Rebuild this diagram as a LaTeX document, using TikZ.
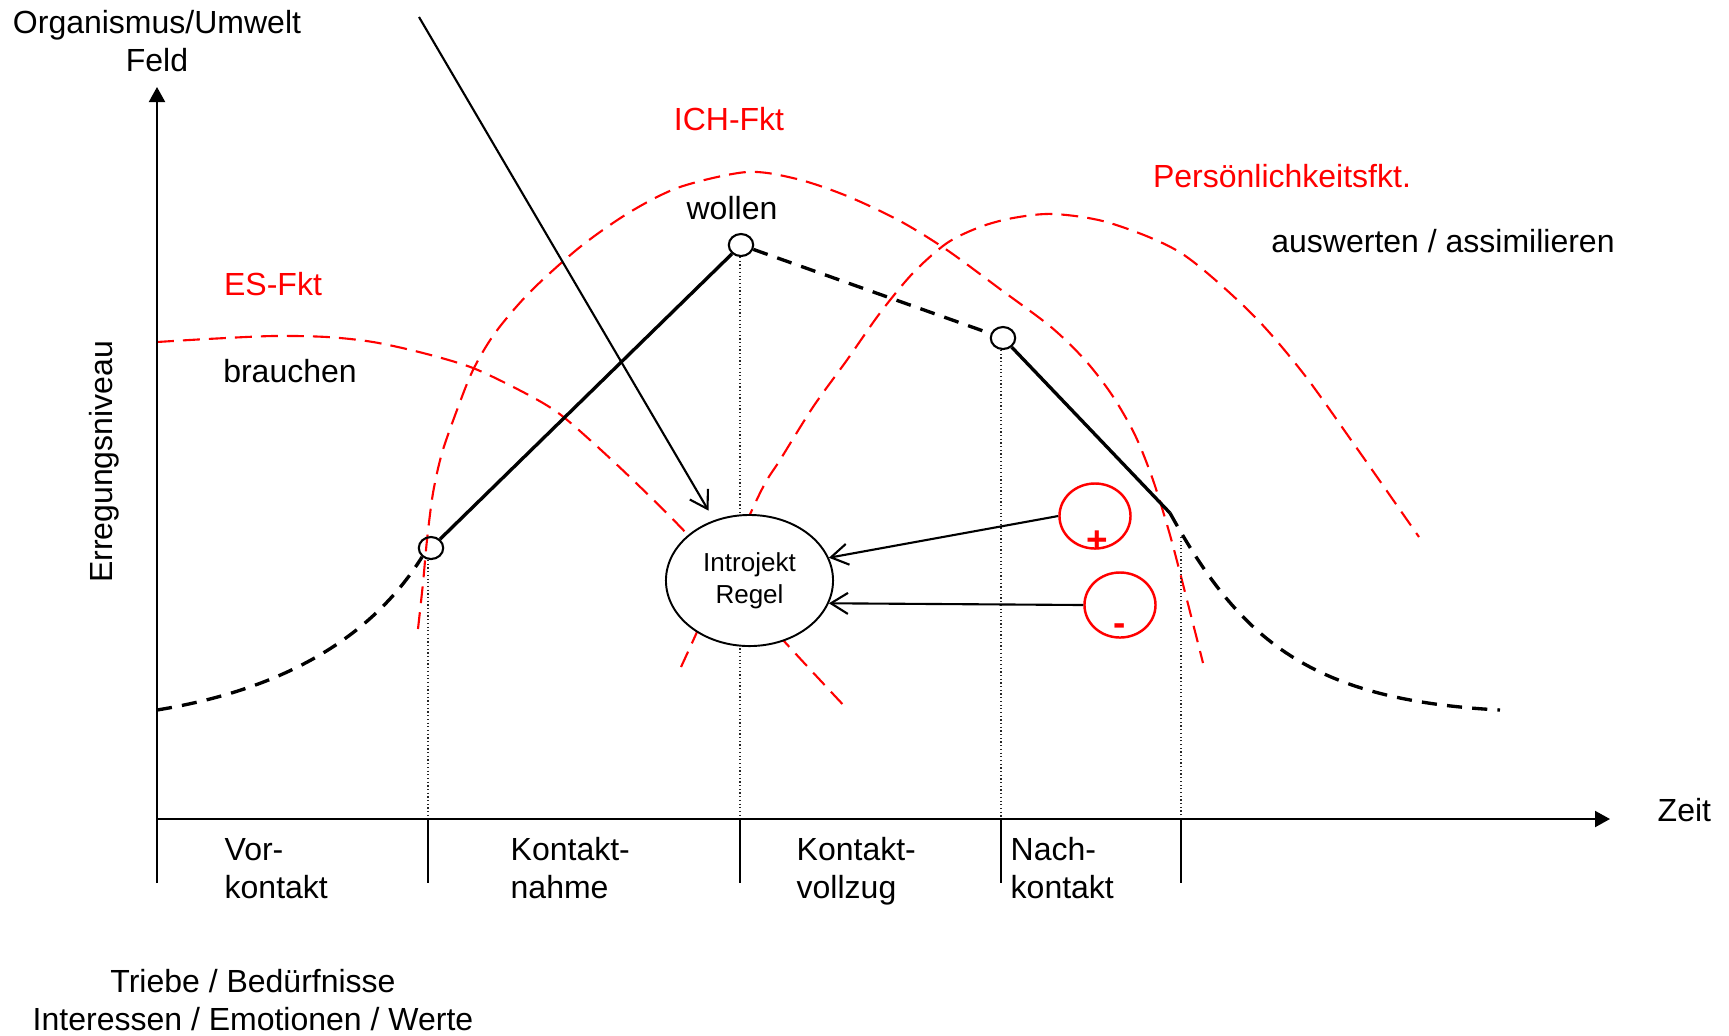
\documentclass[tikz,border=0pt]{standalone}
\usepackage{fontspec}
\setmainfont{Liberation Sans}
\usetikzlibrary{arrows.meta,shapes.geometric}
\tikzset{
  achse/.style={line width=0.6pt, draw=black},
  teilung/.style={line width=0.4pt, draw=black},
  hilfslinie/.style={line width=0.35pt, draw=black!85, dash pattern=on 0.35pt off 0.7pt},
  verlauf/.style={line width=0.95pt, draw=black},
  verlaufstr/.style={line width=0.95pt, draw=black, dash pattern=on 4.3pt off 2.9pt},
  funktion/.style={line width=0.6pt, draw=red, dash pattern=on 4.8pt off 2.6pt},
  punkt/.style={ellipse, draw=black, line width=0.6pt, minimum width=0.244cm, minimum height=0.22cm, inner sep=0pt},
  introjekt/.style={ellipse, draw=black, fill=white, line width=0.55pt, minimum width=1.67cm, minimum height=1.31cm, inner sep=0pt, align=center, font=\fontsize{7.4pt}{9.1pt}\selectfont},
  wertung/.style={ellipse, draw=red, line width=0.7pt, minimum width=0.71cm, minimum height=0.65cm, inner sep=0pt},
  zeichen/.style={text=red, font=\fontsize{10.5pt}{10.5pt}\selectfont\bfseries, inner sep=0pt},
  pfeil/.style={line width=0.6pt, draw=black, -{Straight Barb[length=1.7mm, width=2.1mm]}},
  beschriftung/.style={inner sep=0pt},
  fkt/.style={inner sep=0pt, text=red},
}

\begin{document}
\begin{tikzpicture}[x=0.01cm, y=-0.01cm, font=\fontsize{9.1pt}{10.73pt}\selectfont]
\useasboundingbox (0,0) rectangle (1729,1035);
\draw[funktion] plot[smooth, tension=0.5] coordinates {(157,342) (207,339) (273,336) (327,337) (373,342) (423,353) (473,368) (523,392) (557,412) (590,440) (633,480) (688,535) (783,640) (848,710)};
\draw[funktion] plot[smooth, tension=0.5] coordinates {(418,629) (423,583) (427,540) (433,493) (442,453) (457,410) (473,370) (495,333) (530,292) (580,247) (630,212) (680,187) (747,172) (797,179) (847,196) (900,221) (947,250) (1000,289) (1051,327) (1085,360) (1112,395) (1135,435) (1153,480) (1170,535) (1187,600) (1203,663)};
\draw[funktion] plot[smooth, tension=0.5] coordinates {(681,667) (697,632) (752,510) (767,480) (780,460) (813,407) (847,360) (880,313) (913,273) (947,243) (980,227) (1013,218) (1054,214) (1110,223) (1181,253) (1251,313) (1303,373) (1356,447) (1419,537)};
\coordinate (ursprung) at (157,819);
\coordinate (yfuss) at (157,883);
\coordinate (yspitze) at (157,87);
\coordinate (xspitze) at (1610,819);
\coordinate (t1) at (428,819);
\coordinate (t2) at (740,819);
\coordinate (t3) at (1001,819);
\coordinate (t4) at (1181,819);
\node[punkt] (p1) at (431,548) {};
\node[punkt] (p2) at (741,245) {};
\node[punkt] (p3) at (1003,338) {};
\coordinate (anfang) at (157,710);
\coordinate (knick) at (1170,513);
\coordinate (ende) at (1500,710);
\draw[hilfslinie] (t1 |- p1.south) -- (t1);
\draw[hilfslinie] (t2 |- p2.south) -- (t2);
\draw[hilfslinie] (t3 |- p3.south) -- (t3);
\draw[hilfslinie] (t4) -- ++(0,-282);
\draw[achse, -{Triangle[length=1.5mm, width=1.6mm]}] (yfuss) -- (yspitze);
\draw[achse, -{Triangle[length=1.5mm, width=1.6mm]}] (ursprung) -- (xspitze);
\draw[teilung] (t1) -- ++(0,64);
\draw[teilung] (t2) -- ++(0,64);
\draw[teilung] (t3) -- ++(0,64);
\draw[teilung] (t4) -- ++(0,64);
\draw[verlaufstr] (anfang) .. controls (280,690) and (370,640) .. (p1.225);
\draw[verlauf] (p1) -- (p2);
\draw[verlaufstr] (p2) -- (p3);
\draw[verlauf] (p3) -- (knick);
\draw[verlaufstr] (knick) .. controls (1240,640) and (1310,700) .. (ende);
\node[introjekt] (regel) at (749.5,580.5) {Introjekt\\Regel};
\node[wertung] (plus) at (1095,516) {};
\node[wertung] (minus) at (1120,605) {};
\node[zeichen] (pluszeichen) at (1097,542) {+};
\node[zeichen] (minuszeichen) at (1120,630) {-};
\coordinate (oben) at (419,17);
\draw[pfeil, shorten >=1.1mm] (oben) -- (regel);
\draw[pfeil] (plus.west) -- (regel.16);
\draw[pfeil] (minus.west) -- (regel.-16);
\node[beschriftung, align=center, anchor=base] (feld) at (157,71) {Organismus/Umwelt\\Feld};
\node[fkt, anchor=base] (ich) at (729,130) {ICH-Fkt};
\node[fkt, anchor=base] (pers) at (1282,187) {Persönlichkeitsfkt.};
\node[beschriftung, anchor=base] (wollen) at (732,219) {wollen};
\node[beschriftung, anchor=base] (auswerten) at (1443,252) {auswerten / assimilieren};
\node[fkt, anchor=base] (es) at (273,295) {ES-Fkt};
\node[beschriftung, anchor=base] (brauchen) at (290,382) {brauchen};
\node[beschriftung, rotate=90, anchor=base] (niveau) at (112,462) {Erregungsniveau};
\node[beschriftung, anchor=base west] (zeit) at (1657,821) {Zeit};
\node[beschriftung, align=left, anchor=base west] (vor) at (224,898) {Vor-\\kontakt};
\node[beschriftung, align=left, anchor=base west] (nahme) at (510,898) {Kontakt-\\nahme};
\node[beschriftung, align=left, anchor=base west] (vollzug) at (796,898) {Kontakt-\\vollzug};
\node[beschriftung, align=left, anchor=base west] (nach) at (1010,898) {Nach-\\kontakt};
\node[beschriftung, align=center, anchor=base] (triebe) at (253,1030) {Triebe / Bedürfnisse\\Interessen / Emotionen / Werte};
\end{tikzpicture}
\end{document}
